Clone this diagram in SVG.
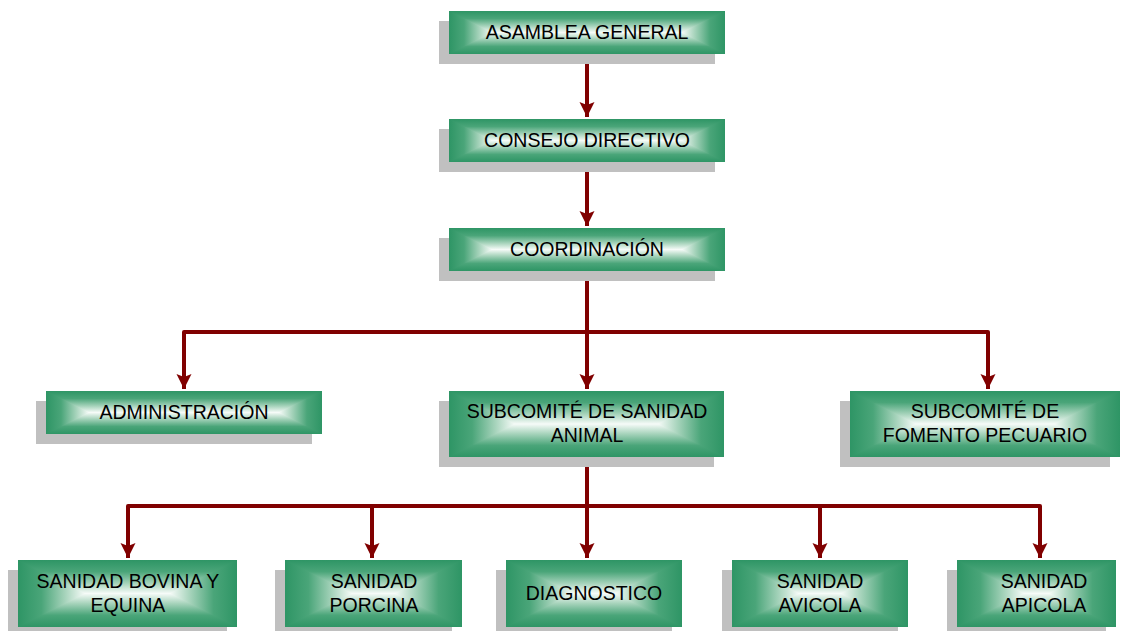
<svg xmlns="http://www.w3.org/2000/svg" width="1123" height="631" viewBox="0 0 1123 631">
  <style>
    .shadow { fill: #c0c0c0; }
    .vb { fill: url(#gV); }
    .lt { fill: url(#gL); }
    .rt { fill: url(#gR); }
    .label { font-family: "Liberation Sans", Arial, sans-serif; font-size: 19.5px; fill: #000000; text-anchor: middle; }
    .conn { fill: none; stroke: #800000; stroke-width: 4; stroke-linejoin: round; }
  </style>
  <defs>
    <!-- box fill: green at the edges, fading to white along the middle -->
    <linearGradient id="gV" x1="0" y1="0" x2="0" y2="1">
      <stop offset="0" stop-color="#2e9565"/>
      <stop offset="0.175" stop-color="#4aa579"/>
      <stop offset="0.35" stop-color="#a6d3bb"/>
      <stop offset="0.5" stop-color="#f6fbf8"/>
      <stop offset="0.65" stop-color="#a6d3bb"/>
      <stop offset="0.825" stop-color="#4aa579"/>
      <stop offset="1" stop-color="#2e9565"/>
    </linearGradient>
    <!-- end caps: same ramp, running in from the left / right edge -->
    <linearGradient id="gL" x1="0" y1="0" x2="1" y2="0">
      <stop offset="0" stop-color="#2e9565"/>
      <stop offset="0.35" stop-color="#4aa579"/>
      <stop offset="0.7" stop-color="#a6d3bb"/>
      <stop offset="1" stop-color="#f6fbf8"/>
    </linearGradient>
    <linearGradient id="gR" x1="1" y1="0" x2="0" y2="0">
      <stop offset="0" stop-color="#2e9565"/>
      <stop offset="0.35" stop-color="#4aa579"/>
      <stop offset="0.7" stop-color="#a6d3bb"/>
      <stop offset="1" stop-color="#f6fbf8"/>
    </linearGradient>
    <marker id="arrow" markerUnits="userSpaceOnUse" markerWidth="16" markerHeight="16" viewBox="0 0 16 16" refX="15" refY="8" orient="auto">
      <path d="M0,0.5 L15,8 L0,15.5 L3,8 Z" fill="#800000"/>
    </marker>
  </defs>

  <!-- connectors -->
  <g id="connectors">
    <path class="conn" d="M587,54 V117" marker-end="url(#arrow)"/>
    <path class="conn" d="M587,162 V226" marker-end="url(#arrow)"/>
    <path class="conn" d="M587,271 V389" marker-end="url(#arrow)"/>
    <path class="conn" d="M587,332 H184 V389" marker-end="url(#arrow)"/>
    <path class="conn" d="M587,332 H988 V389" marker-end="url(#arrow)"/>
    <path class="conn" d="M587,457 V558" marker-end="url(#arrow)"/>
    <path class="conn" d="M587,506 H128 V558" marker-end="url(#arrow)"/>
    <path class="conn" d="M587,506 H372 V558" marker-end="url(#arrow)"/>
    <path class="conn" d="M587,506 H820 V558" marker-end="url(#arrow)"/>
    <path class="conn" d="M587,506 H1040 V558" marker-end="url(#arrow)"/>
  </g>

  <g id="asamblea">
    <rect class="shadow" x="439" y="21" width="276" height="43"/>
    <rect class="vb" x="449" y="11" width="276" height="43"/>
    <polygon class="lt" points="449,11 492,32.5 449,54"/>
    <polygon class="rt" points="725,11 682,32.5 725,54"/>
    <text class="label" x="587" y="39">ASAMBLEA GENERAL</text>
  </g>

  <g id="consejo">
    <rect class="shadow" x="439" y="129" width="276" height="43"/>
    <rect class="vb" x="449" y="119" width="276" height="43"/>
    <polygon class="lt" points="449,119 492,140.5 449,162"/>
    <polygon class="rt" points="725,119 682,140.5 725,162"/>
    <text class="label" x="587" y="147">CONSEJO DIRECTIVO</text>
  </g>

  <g id="coordinacion">
    <rect class="shadow" x="439" y="238" width="276" height="43"/>
    <rect class="vb" x="449" y="228" width="276" height="43"/>
    <polygon class="lt" points="449,228 492,249.5 449,271"/>
    <polygon class="rt" points="725,228 682,249.5 725,271"/>
    <text class="label" x="587" y="256">COORDINACIÓN</text>
  </g>

  <g id="administracion">
    <rect class="shadow" x="36" y="401" width="276" height="43"/>
    <rect class="vb" x="46" y="391" width="276" height="43"/>
    <polygon class="lt" points="46,391 89,412.5 46,434"/>
    <polygon class="rt" points="322,391 279,412.5 322,434"/>
    <text class="label" x="184" y="419">ADMINISTRACIÓN</text>
  </g>

  <g id="sanidad-animal">
    <rect class="shadow" x="439" y="401" width="275" height="66"/>
    <rect class="vb" x="449" y="391" width="275" height="66"/>
    <polygon class="lt" points="449,391 515,424 449,457"/>
    <polygon class="rt" points="724,391 658,424 724,457"/>
    <text class="label" x="587" y="418">SUBCOMITÉ DE SANIDAD</text>
    <text class="label" x="587" y="442">ANIMAL</text>
  </g>

  <g id="fomento-pecuario">
    <rect class="shadow" x="840" y="401" width="270" height="66"/>
    <rect class="vb" x="850" y="391" width="270" height="66"/>
    <polygon class="lt" points="850,391 916,424 850,457"/>
    <polygon class="rt" points="1120,391 1054,424 1120,457"/>
    <text class="label" x="985" y="418">SUBCOMITÉ DE</text>
    <text class="label" x="985" y="442">FOMENTO PECUARIO</text>
  </g>

  <g id="bovina-equina">
    <rect class="shadow" x="8" y="570" width="219" height="67"/>
    <rect class="vb" x="18" y="560" width="219" height="67"/>
    <polygon class="lt" points="18,560 85,593.5 18,627"/>
    <polygon class="rt" points="237,560 170,593.5 237,627"/>
    <text class="label" x="128" y="588">SANIDAD BOVINA Y</text>
    <text class="label" x="128" y="612">EQUINA</text>
  </g>

  <g id="porcina">
    <rect class="shadow" x="275" y="570" width="177" height="67"/>
    <rect class="vb" x="285" y="560" width="177" height="67"/>
    <polygon class="lt" points="285,560 352,593.5 285,627"/>
    <polygon class="rt" points="462,560 395,593.5 462,627"/>
    <text class="label" x="374" y="588">SANIDAD</text>
    <text class="label" x="374" y="612">PORCINA</text>
  </g>

  <g id="diagnostico">
    <rect class="shadow" x="496" y="570" width="176" height="67"/>
    <rect class="vb" x="506" y="560" width="176" height="67"/>
    <polygon class="lt" points="506,560 573,593.5 506,627"/>
    <polygon class="rt" points="682,560 615,593.5 682,627"/>
    <text class="label" x="594" y="600">DIAGNOSTICO</text>
  </g>

  <g id="avicola">
    <rect class="shadow" x="722" y="570" width="176" height="67"/>
    <rect class="vb" x="732" y="560" width="176" height="67"/>
    <polygon class="lt" points="732,560 799,593.5 732,627"/>
    <polygon class="rt" points="908,560 841,593.5 908,627"/>
    <text class="label" x="820" y="588">SANIDAD</text>
    <text class="label" x="820" y="612">AVICOLA</text>
  </g>

  <g id="apicola">
    <rect class="shadow" x="947" y="570" width="159" height="67"/>
    <rect class="vb" x="957" y="560" width="159" height="67"/>
    <polygon class="lt" points="957,560 1024,593.5 957,627"/>
    <polygon class="rt" points="1116,560 1049,593.5 1116,627"/>
    <text class="label" x="1044" y="588">SANIDAD</text>
    <text class="label" x="1044" y="612">APICOLA</text>
  </g>
</svg>
